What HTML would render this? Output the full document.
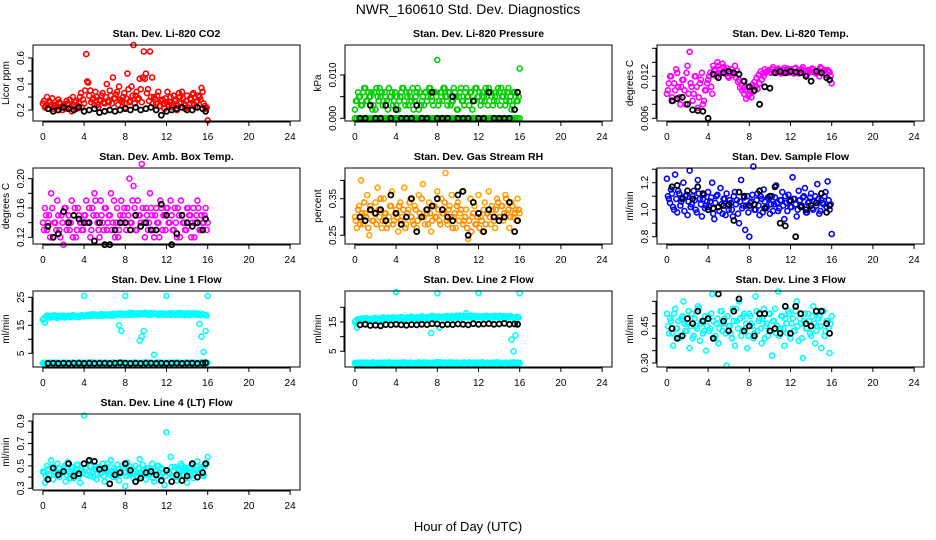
<!DOCTYPE html>
<html><head><meta charset="utf-8">
<style>
html,body{margin:0;padding:0;background:#fff;}
svg{display:block;font-family:"Liberation Sans",sans-serif;}
</style></head>
<body>
<svg id="chart" width="936" height="540" viewBox="0 0 936 540">
<rect width="936" height="540" fill="#fff"/>
<text x="468" y="14" text-anchor="middle" font-size="14">NWR_160610  Std. Dev. Diagnostics</text>
<text x="468" y="531" text-anchor="middle" font-size="13">Hour of Day (UTC)</text>
</svg>
<script>
const hours = [0,0.2,0.4,0.6,0.8,1,1.2,1.4,1.6,1.8,2,2.2,2.4,2.6,2.8,3,3.2,3.4,3.6,3.8,4,4.2,4.4,4.6,4.8,5,5.2,5.4,5.6,5.8,6,6.2,6.4,6.6,6.8,7,7.2,7.4,7.6,7.8,8,8.2,8.4,8.6,8.8,9,9.2,9.4,9.6,9.8,10,10.2,10.4,10.6,10.8,11,11.2,11.4,11.6,11.8,12,12.2,12.4,12.6,12.8,13,13.2,13.4,13.6,13.8,14,14.2,14.4,14.6,14.8,15,15.2,15.4,15.6,15.8,16];
const hours2 = [0.1,0.3,0.5,0.7,0.9,1.1,1.3,1.5,1.7,1.9,2.1,2.3,2.5,2.7,2.9,3.1,3.3,3.5,3.7,3.9,4.1,4.3,4.5,4.7,4.9,5.1,5.3,5.5,5.7,5.9,6.1,6.3,6.5,6.7,6.9,7.1,7.3,7.5,7.7,7.9,8.1,8.3,8.5,8.7,8.9,9.1,9.3,9.5,9.7,9.9,10.1,10.3,10.5,10.7,10.9,11.1,11.3,11.5,11.7,11.9,12.1,12.3,12.5,12.7,12.9,13.1,13.3,13.5,13.7,13.9,14.1,14.3,14.5,14.7,14.9,15.1,15.3,15.5,15.7,15.9];
const blackHours = [0.5,1,1.5,2,2.5,3,3.5,4,4.5,5,5.5,6,6.5,7,7.5,8,8.5,9,9.5,10,10.5,11,11.5,12,12.5,13,13.5,14,14.5,15,15.5,15.8];
const xTicks = [0,4,8,12,16,20,24];

const co2 = [.25,.22,.30,.27,.24,.21,.23,.20,.26,.22,.24,.21,.25,.28,.19,.24,.27,.23,.30,.22,.25,.63,.41,.35,.28,.24,.30,.22,.27,.33,.25,.40,.26,.31,.45,.29,.34,.38,.27,.30,.22,.48,.26,.38,.70,.31,.28,.44,.26,.65,.48,.36,.65,.45,.30,.25,.34,.23,.28,.21,.26,.24,.30,.22,.27,.20,.33,.25,.29,.21,.31,.24,.28,.33,.22,.27,.30,.37,.25,.21,.12];
const co2B = [.27,.23,.21,.26,.29,.24,.22,.28,.25,.20,.23,.27,.24,.22,.30,.26,.21,.25,.33,.28,.35,.42,.31,.26,.29,.34,.24,.28,.31,.26,.30,.27,.35,.25,.29,.32,.24,.28,.26,.33,.29,.36,.27,.31,.25,.34,.29,.36,.45,.44,.33,.27,.30,.25,.28,.31,.23,.27,.25,.29,.34,.26,.24,.31,.28,.23,.30,.34,.25,.27,.22,.29,.32,.24,.26,.31,.28,.34,.23,.22];
const co2Black = [.21,.19,.20,.22,.21,.20,.22,.19,.20,.21,.18,.19,.20,.19,.20,.21,.20,.22,.20,.21,.22,.20,.16,.19,.20,.21,.22,.20,.20,.22,.21,.19];
const press = [.002,.004,.005,.003,.006,.007,.004,.005,.006,.003,.002,.005,.007,.006,.004,.003,.002,.005,.006,.004,.003,.002,.005,.007,.004,.006,.003,.005,.007,.004,.006,.002,.003,.005,.006,.004,.007,.005,.003,.006,.0135,.004,.006,.007,.005,.003,.006,.004,.007,.005,.002,.006,.004,.003,.007,.005,.006,.002,.004,.007,.005,.003,.006,.004,.005,.007,.006,.003,.005,.004,.006,.007,.005,.003,.006,.004,.002,.006,.005,.004,.0115];
const pressB = [.004,.006,.005,.003,.007,.004,.006,.005,.002,.006,.007,.004,.005,.003,.006,.004,.007,.005,.003,.006,.005,.004,.006,.007,.003,.005,.006,.004,.002,.005,.007,.006,.004,.003,.006,.005,.007,.004,.006,.005,.003,.006,.004,.007,.005,.006,.003,.004,.006,.002,.005,.007,.004,.006,.005,.003,.006,.004,.007,.005,.006,.004,.005,.007,.003,.006,.005,.004,.006,.007,.003,.005,.006,.004,.007,.005,.003,.006,.004,.005];
const pressZero = [0,0,0,0,0,0,0,0,0,0,0,0,0,0,0,0,0,0,0,0,0,0,0,0,0,0,0,0,0,0,0,0,0,0,0,0,0,0,0,0,0,0,0,0,0,0,0,0,0,0,0,0,0,0,0,0,0,0,0,0,0,0,0,0,0,0,0,0,0,0,0,0,0,0,0,0,0,0,0,0,0];
const pressBlack = [0,0,0.003,0,0,0.003,0,0.002,0,0,0,0.003,0,0,0.006,0,0,0,0.005,0,0,0,0.004,0,0,0.006,0,0,0,0,0.002,0.006];
const liTemp = [.0095,.011,.012,.0085,.010,.0125,.009,.0105,.0115,.008,.0135,.0155,.0105,.0095,.012,.0075,.011,.0125,.0085,.010,.0115,.0125,.0095,.013,.012,.0135,.0125,.0138,.0128,.0132,.0118,.0126,.0122,.0135,.0128,.0115,.0108,.0113,.0100,.0105,.0095,.0090,.0098,.0105,.0102,.0110,.0115,.0120,.0125,.0128,.0126,.0130,.0127,.0125,.0131,.0128,.0126,.0132,.0129,.0125,.0130,.0127,.0131,.0126,.0124,.0129,.0133,.0127,.0122,.0128,.0126,.0130,.0125,.0128,.0120,.0131,.0127,.0124,.0129,.0126,.0110];
const liTempB = [.0100,.0120,.0090,.0110,.0130,.0105,.0080,.0115,.0100,.0125,.0095,.0110,.0085,.0120,.0105,.0090,.0115,.0080,.0100,.0110,.0120,.0105,.0135,.0128,.0140,.0130,.0125,.0133,.0129,.0120,.0124,.0130,.0125,.0118,.0112,.0104,.0100,.0095,.0088,.0092,.0100,.0108,.0112,.0118,.0122,.0127,.0124,.0130,.0127,.0129,.0125,.0133,.0126,.0128,.0130,.0124,.0129,.0127,.0131,.0126,.0128,.0124,.0132,.0127,.0125,.0130,.0128,.0123,.0129,.0126,.0131,.0127,.0124,.0128,.0133,.0126,.0129,.0122,.0127,.0120];
const liTempBlack = [.0085,.0088,.0090,.0080,.0072,.0071,.0070,.0060,.0123,.0118,.0125,.0127,.0125,.0123,.0113,.0105,.0100,.0080,.0105,.0103,.0125,.0127,.0125,.0127,.0126,.0125,.0120,.0113,.0127,.0125,.0118,.0115];
const boxTemp = [.14,.16,.13,.15,.18,.12,.14,.17,.13,.15,.11,.16,.14,.13,.17,.15,.12,.16,.14,.13,.15,.17,.14,.12,.16,.18,.15,.13,.17,.14,.16,.13,.15,.18,.14,.12,.16,.13,.17,.15,.14,.16,.20,.14,.19,.13,.17,.15,.22,.14,.16,.13,.18,.15,.12,.16,.14,.17,.13,.15,.16,.14,.17,.13,.16,.12,.15,.17,.14,.13,.16,.15,.12,.16,.14,.17,.13,.15,.14,.16,.14];
const boxTempB = [.13,.15,.14,.12,.16,.14,.13,.15,.12,.14,.16,.13,.15,.14,.12,.16,.13,.15,.14,.13,.15,.14,.16,.13,.15,.17,.14,.12,.15,.13,.16,.14,.15,.13,.17,.14,.12,.15,.14,.16,.13,.15,.14,.17,.16,.13,.15,.14,.16,.12,.15,.14,.16,.13,.15,.14,.12,.16,.15,.13,.16,.14,.15,.13,.14,.16,.12,.15,.14,.13,.16,.15,.14,.12,.15,.16,.13,.14,.15,.13];
const boxTempBlack = [.135,.12,.125,.155,.14,.15,.145,.14,.14,.115,.14,.11,.11,.13,.14,.14,.13,.15,.135,.14,.13,.13,.165,.15,.11,.125,.15,.14,.135,.14,.13,.145];
const rh = [.30,.27,.33,.40,.28,.31,.36,.25,.32,.29,.34,.38,.30,.27,.35,.31,.28,.33,.37,.29,.32,.26,.34,.30,.38,.28,.32,.35,.29,.33,.27,.36,.30,.39,.28,.31,.34,.26,.33,.30,.37,.29,.35,.31,.42,.28,.33,.36,.30,.27,.34,.31,.37,.29,.32,.24,.35,.30,.33,.28,.36,.30,.26,.34,.31,.37,.28,.32,.27,.35,.30,.33,.29,.36,.31,.27,.34,.30,.32,.35,.31];
const rhB = [.29,.32,.28,.31,.34,.30,.27,.33,.29,.31,.28,.32,.35,.29,.31,.27,.30,.33,.28,.31,.30,.33,.29,.32,.27,.31,.34,.30,.28,.32,.29,.31,.35,.30,.32,.28,.31,.29,.33,.30,.32,.28,.31,.34,.29,.32,.30,.27,.31,.33,.29,.32,.28,.30,.27,.29,.26,.31,.28,.30,.27,.29,.32,.28,.31,.30,.33,.29,.32,.34,.30,.33,.31,.35,.32,.30,.33,.31,.29,.32];
const rhBlack = [.30,.29,.32,.31,.32,.29,.36,.31,.28,.30,.35,.26,.30,.32,.33,.35,.32,.30,.29,.36,.37,.25,.34,.31,.26,.32,.30,.29,.30,.34,.26,.29];
const sflow = [1.23,1.08,1.15,1.02,1.26,0.98,1.12,1.06,1.20,1.10,0.96,1.29,1.04,1.14,1.00,1.22,1.08,0.95,1.11,1.03,1.13,1.06,1.20,0.93,1.10,1.02,1.16,0.97,1.08,1.12,1.00,1.05,0.95,1.13,1.07,0.90,1.22,1.03,0.85,1.10,0.80,1.06,1.32,1.00,1.12,0.96,1.08,1.15,1.01,1.09,0.97,1.10,1.04,1.18,0.99,1.07,1.13,0.93,1.05,1.11,1.02,1.24,1.08,0.95,1.14,1.03,1.09,1.16,0.98,1.06,1.12,1.00,1.10,1.19,0.97,1.07,1.04,1.13,1.21,1.00,0.82];
const sflowB = [1.10,1.05,1.12,1.00,1.08,1.14,1.03,1.09,0.99,1.11,1.06,1.02,1.10,1.07,0.98,1.12,1.04,1.08,1.01,1.06,1.02,1.09,0.97,1.05,1.11,0.99,1.04,1.08,0.96,1.03,1.07,1.00,1.10,1.04,0.97,1.06,1.01,1.09,1.03,0.98,1.05,1.11,1.00,1.07,1.03,1.10,0.98,1.06,1.02,1.08,1.04,0.99,1.09,1.05,1.01,1.07,1.03,1.10,0.99,1.06,1.02,1.08,1.04,1.00,1.07,1.03,1.10,0.98,1.05,1.09,1.01,1.06,1.03,1.08,0.99,1.05,1.10,1.02,1.07,1.04];
const sflowBlack = [1.17,1.18,1.08,1.14,1.08,1.17,1.12,1.00,1.01,1.02,1.03,1.04,0.92,1.13,1.10,1.03,1.04,1.14,1.01,1.10,1.17,0.90,0.88,1.07,0.80,1.02,1.00,1.03,1.05,1.12,0.98,1.03];
const line1 = [17,16,18.5,18,17.8,18.2,18,17.6,18.3,18.1,18.4,18,18.2,17.9,18.3,18.5,18.1,18.4,18.2,18.6,25.5,18.3,18.6,18.8,18.4,18.9,18.5,18.7,18.4,18.8,18.6,18.9,18.5,18.8,19,18.6,18.9,15,13,19.2,25.5,18.7,19.5,18.9,19.2,18.8,19.3,9.6,11,13,19,18.8,19.4,19.1,4.5,19,18.7,19.3,19,18.8,25.5,19.1,18.7,19.3,18.9,19.2,18.8,19.4,19,18.6,19.1,18.7,19.2,18.9,19.4,18.8,15.5,11,5.5,13,25.5];
const line1B = [17.5,18.2,17.8,18.4,18,18.6,17.9,18.3,18.1,18.5,17.8,18.2,18.4,18,18.6,18.1,18.3,17.9,18.5,18.2,18.4,18.7,18.3,18.9,18.5,18.8,18.4,18.6,19,18.5,18.8,18.6,18.9,18.4,19.1,18.7,18.9,19.3,18.6,19,18.8,19.2,18.7,19.4,18.9,19.1,18.8,19.3,19,19.5,18.9,19.2,18.8,19.4,19.1,18.7,19.2,18.9,19.3,19,18.8,19.3,18.9,19.1,18.7,19.4,19,18.8,19.2,18.9,19.3,18.7,19,19.2,18.8,19.1,18.6,19,18.7,18.5];
const line1Low = [1.5,1.7,1.4,1.6,1.5,1.3,1.6,1.7,1.5,1.4,1.6,1.5,1.7,1.4,1.5,1.6,1.3,1.5,1.7,1.6,1.4,1.5,1.6,1.8,1.5,1.4,1.6,1.5,1.7,1.4,1.6,1.5,1.3,1.6,1.7,1.5,1.4,1.6,1.5,1.7,1.4,1.5,1.6,1.3,1.5,1.7,1.6,1.4,1.5,1.6,1.8,1.5,1.4,1.6,1.5,1.7,1.4,1.6,1.5,1.3,1.6,1.7,1.5,1.4,1.6,1.5,1.7,1.4,1.5,1.6,1.3,1.5,1.7,1.6,1.4,1.5,1.6,1.8,1.5,1.4,1.6];
const line1LowB = [1.6,1.4,1.5,1.7,1.5,1.4,1.6,1.5,1.3,1.6,1.5,1.7,1.4,1.5,1.6,1.4,1.5,1.7,1.5,1.6,1.4,1.6,1.5,1.3,1.7,1.5,1.6,1.4,1.5,1.6,1.7,1.5,1.4,1.6,1.5,1.3,1.6,1.5,1.7,1.4,1.5,1.6,1.4,1.7,1.5,1.6,1.3,1.5,1.6,1.4,1.7,1.5,1.6,1.4,1.5,1.6,1.7,1.4,1.5,1.6,1.5,1.3,1.6,1.5,1.7,1.4,1.6,1.5,1.4,1.7,1.5,1.6,1.4,1.5,1.6,1.3,1.5,1.7,1.6,1.5];
const line1Black = [1.4,1.5,1.4,1.5,1.4,1.5,1.5,1.4,1.5,1.4,1.5,1.5,1.4,1.5,1.6,1.5,1.4,1.5,1.4,1.5,1.5,1.4,1.5,1.4,1.5,1.5,1.4,1.5,1.5,1.4,1.5,1.6];
const line2 = [15,13,16,15.5,16.2,15.8,16,15.6,16.1,15.9,16.3,15.7,16,16.2,15.8,16.1,16.4,15.9,16.2,16,25.2,16.3,16.1,16.5,15.9,16.4,16.2,16.6,16,16.3,16.5,16.1,16.4,16.7,16.2,16.5,16.3,11.2,16.8,16.4,24.8,13,16.5,16.9,16.3,16.7,16.5,17,16.4,16.8,16.6,17.2,16.5,16.9,18,16.6,16.8,16.5,16.9,16.7,24.9,16.5,16.9,16.7,17,16.6,16.8,16.5,17.1,16.7,16.9,16.6,17,16.8,16.5,16.9,9,5,10.5,16.5,24.8];
const line2B = [15.5,16,15.8,16.2,15.9,16.3,16,16.1,15.8,16.4,16.1,16.2,15.9,16.5,16.2,16,16.4,16.1,16.6,16.3,16.5,16.2,16.7,16.4,16.1,16.6,16.3,16.8,16.5,16.2,16.7,16.4,16.9,16.6,16.3,16.8,16.5,17.1,16.6,16.4,16.9,16.6,16.8,16.5,17,16.7,16.4,16.9,16.6,17.1,16.8,16.5,17,16.7,16.9,16.6,17.2,16.8,16.5,17,16.7,16.9,16.6,17.1,16.8,16.5,17,16.7,16.9,16.6,17.1,16.8,16.5,16.9,16.7,17,16.4,16.6,16.8,16.5];
const line2Low = [1,0.9,1.1,1,0.8,1,1.1,0.9,1,1.2,1,0.9,1,1.1,0.8,1,1,1.2,0.9,1,1.1,1,0.9,1.2,1,1,0.8,1.1,1,0.9,1,1.2,1,1,0.9,1.1,1,0.8,1,1.1,1.3,1,0.9,1,1.1,1,1.2,0.9,1,1,1.1,0.9,1,1.2,1,0.8,1,1.1,1,0.9,1.1,1,1.2,0.9,1,1,0.8,1.1,1,1.2,1,0.9,1,1.1,1,0.9,1,1.2,1,0.9,1];
const line2LowB = [1.1,1,0.9,1.2,1,1.1,0.9,1,1.2,1,0.8,1.1,1,0.9,1.1,1,1.2,0.9,1,1.1,1,0.9,1.1,1,1.2,0.9,1,1.1,0.8,1,1.1,0.9,1,1.2,1,1.1,0.9,1,1.1,1,0.9,1.2,1,1.1,0.9,1,1,1.2,0.9,1.1,1,0.8,1,1.1,0.9,1.2,1,1,1.1,0.9,1,1.2,0.9,1,1.1,1,0.9,1.1,1,1.2,0.9,1,1.1,1,0.8,1.1,1,0.9,1.1,1];
const line2Black = [14,14.2,13.8,13.9,13.7,14.1,14,14.2,14,13.9,14.1,14,14.2,14.1,14.4,14.3,14,14.2,14.1,14.3,14.2,14,14.4,14.2,14.3,14.4,14.2,14.3,14.5,14.2,14.3,14.2];
const line3 = [.50,.42,.47,.37,.52,.44,.40,.48,.55,.43,.46,.36,.50,.41,.45,.53,.39,.47,.43,.35,.49,.44,.58,.40,.46,.38,.51,.43,.48,.29,.45,.42,.52,.37,.47,.55,.41,.49,.44,.36,.50,.46,.40,.57,.43,.48,.38,.52,.45,.41,.50,.33,.47,.42,.59,.44,.49,.37,.46,.51,.40,.48,.43,.55,.39,.46,.32,.50,.44,.47,.41,.53,.38,.45,.49,.36,.51,.43,.47,.34,.49];
const line3B = [.45,.48,.42,.50,.44,.47,.41,.49,.46,.43,.51,.45,.40,.48,.44,.52,.46,.42,.49,.45,.43,.50,.47,.41,.48,.44,.51,.46,.42,.49,.45,.40,.47,.52,.44,.48,.43,.50,.46,.41,.49,.45,.42,.51,.47,.44,.48,.40,.46,.50,.43,.47,.52,.45,.41,.49,.44,.48,.42,.50,.46,.43,.51,.45,.48,.40,.47,.44,.50,.42,.49,.46,.43,.48,.45,.51,.41,.47,.44,.46];
const line3Black = [.44,.40,.41,.48,.46,.51,.47,.48,.40,.58,.47,.43,.51,.56,.43,.45,.41,.50,.50,.43,.44,.42,.53,.42,.53,.50,.46,.45,.51,.51,.46,.42];
const line4 = [.45,.35,.50,.42,.55,.38,.47,.52,.40,.44,.48,.36,.53,.43,.49,.39,.46,.51,.35,.44,.95,.48,.54,.41,.45,.50,.38,.47,.43,.52,.36,.49,.44,.55,.40,.46,.51,.37,.45,.48,.32,.53,.42,.47,.39,.50,.44,.56,.41,.46,.38,.48,.43,.52,.36,.45,.50,.40,.47,.33,.80,.44,.58,.41,.49,.37,.46,.52,.42,.48,.35,.45,.50,.39,.47,.54,.43,.49,.41,.52,.58];
const line4B = [.44,.40,.47,.42,.49,.45,.41,.48,.43,.46,.50,.42,.45,.39,.47,.44,.51,.41,.46,.43,.48,.42,.45,.50,.40,.47,.43,.49,.44,.41,.46,.52,.42,.45,.48,.40,.47,.43,.50,.44,.41,.46,.49,.43,.45,.40,.48,.44,.51,.42,.46,.43,.47,.39,.45,.50,.42,.48,.44,.41,.46,.43,.49,.45,.40,.47,.44,.50,.42,.46,.48,.41,.45,.43,.49,.44,.47,.42,.50,.52];
const line4Black = [.38,.48,.42,.45,.52,.41,.43,.52,.55,.54,.47,.48,.34,.42,.44,.52,.46,.36,.39,.44,.45,.42,.37,.46,.36,.42,.37,.41,.52,.40,.44,.52];

const panels = [
 {key:'co2',title:'Stan. Dev. Li-820 CO2',ylab:'Licor ppm',col:0,row:0,ylim:[0.1154,0.70],ticks:[.2,.3,.4,.5,.6],labels:[['0.2',.2],['0.4',.4],['0.6',.6]],series:[[hours,co2,'#ff0000'],[hours2,co2B,'#ff0000'],[blackHours,co2Black,'#000']]},
 {key:'pressure',title:'Stan. Dev. Li-820 Pressure',ylab:'kPa',col:1,row:0,ylim:[-0.000624,0.01693],ticks:[0,.005,.01],labels:[['0.000',0],['0.010',.01]],series:[[hours,pressZero,'#00cd00'],[hours,press,'#00cd00'],[hours2,pressB,'#00cd00'],[blackHours,pressBlack,'#000']]},
 {key:'li-temp',title:'Stan. Dev. Li-820 Temp.',ylab:'degrees C',col:2,row:0,ylim:[0.005614,0.016471],ticks:[.006,.008,.010,.012,.014,.016],labels:[['0.006',.006],['0.012',.012]],series:[[hours,liTemp,'#ff00ff'],[hours2,liTempB,'#ff00ff'],[blackHours,liTempBlack,'#000']]},
 {key:'box-temp',title:'Stan. Dev. Amb. Box Temp.',ylab:'degrees C',col:0,row:1,ylim:[0.1109,0.2145],ticks:[.12,.14,.16,.18,.20],labels:[['0.12',.12],['0.16',.16],['0.20',.20]],series:[[hours,boxTemp,'#ff00ff'],[hours2,boxTempB,'#ff00ff'],[blackHours,boxTempBlack,'#000']]},
 {key:'rh',title:'Stan. Dev. Gas Stream RH',ylab:'percent',col:1,row:1,ylim:[0.2262,0.4339],ticks:[.25,.30,.35,.40],labels:[['0.25',.25],['0.35',.35]],series:[[hours,rh,'#ffa500'],[hours2,rhB,'#ff8c00'],[blackHours,rhBlack,'#000']]},
 {key:'sample-flow',title:'Stan. Dev. Sample Flow',ylab:'ml/min',col:2,row:1,ylim:[0.7459,1.3089],ticks:[.8,.9,1.0,1.1,1.2,1.3],labels:[['0.8',.8],['1.0',1.0],['1.2',1.2]],series:[[hours,sflow,'#0000ff'],[hours2,sflowB,'#0000ff'],[blackHours,sflowBlack,'#000']]},
 {key:'line1',title:'Stan. Dev. Line 1 Flow',ylab:'ml/min',col:0,row:2,ylim:[0.108,27.25],ticks:[5,10,15,20,25],labels:[['5',5],['15',15],['25',25]],series:[[hours,line1,'#00ffff'],[hours2,line1B,'#00ffff'],[hours,line1Low,'#00ffff'],[hours2,line1LowB,'#00ffff'],[blackHours,line1Black,'#000']]},
 {key:'line2',title:'Stan. Dev. Line 2 Flow',ylab:'ml/min',col:1,row:2,ylim:[-0.365,25.57],ticks:[5,10,15,20],labels:[['5',5],['15',15]],series:[[hours,line2,'#00ffff'],[hours2,line2B,'#00ffff'],[hours,line2Low,'#00ffff'],[hours2,line2LowB,'#00ffff'],[blackHours,line2Black,'#000']]},
 {key:'line3',title:'Stan. Dev. Line 3 Flow',ylab:'ml/min',col:2,row:2,ylim:[0.2838,0.592],ticks:[.30,.35,.40,.45,.50,.55],labels:[['0.30',.30],['0.45',.45]],series:[[hours,line3,'#00ffff'],[hours2,line3B,'#00ffff'],[blackHours,line3Black,'#000']]},
 {key:'line4',title:'Stan. Dev. Line 4 (LT) Flow',ylab:'ml/min',col:0,row:3,ylim:[0.2848,0.9634],ticks:[.3,.4,.5,.6,.7,.8,.9],labels:[['0.3',.3],['0.5',.5],['0.7',.7],['0.9',.9]],series:[[hours,line4,'#00ffff'],[hours2,line4B,'#00ffff'],[blackHours,line4Black,'#000']]}
];

const NS = 'http://www.w3.org/2000/svg';
const svg = document.getElementById('chart');
function mk(tag, attrs, parent){
  const e = document.createElementNS(NS, tag);
  for (const k in attrs) e.setAttribute(k, attrs[k]);
  parent.appendChild(e);
  return e;
}
panels.forEach(p => {
  const x0 = 33 + 312*p.col, x1 = 300 + 312*p.col;
  const top = 45 + 123*p.row, bot = top + 76;
  const xs = h => x0 + (h + 0.96) / 25.92 * (x1 - x0);
  const ys = v => bot - (v - p.ylim[0]) / (p.ylim[1] - p.ylim[0]) * (bot - top);
  const g = mk('g', {}, svg);
  
  
  const t = mk('text', {x:(x0+x1)/2, y:top-8, 'text-anchor':'middle', 'font-size':'10.5', 'font-weight':'bold'}, g);
  t.textContent = p.title;
  
  
  const pg = mk('g', {}, g);
  
  
  p.series.forEach(s => {
    const xa = s[0], ya = s[1], c = s[2];
    for (let i = 0; i < ya.length; i++) {
      const c1 = mk('circle', {cx:xs(xa[i]).toFixed(1), cy:ys(ya[i]).toFixed(1), r:'2.5', fill:'none', stroke:c, 'stroke-width': c === '#000' ? '1.8' : '1.6'}, pg);
      
      
    }
  });
  const b = mk('rect', {x:x0, y:top, width:x1-x0, height:bot-top, fill:'none', stroke:'#000', 'stroke-width':'1'}, g);
  
  
  const xa = mk('g', {}, g);
  
  
  mk('line', {x1:xs(0), x2:xs(24), y1:bot+1, y2:bot+1, stroke:'#000'}, xa);
  xTicks.forEach(v => {
    mk('line', {x1:xs(v), x2:xs(v), y1:bot, y2:bot+5, stroke:'#000'}, xa);
    const tl = mk('text', {x:xs(v), y:bot+19, 'text-anchor':'middle', 'font-size':'10'}, xa);
    tl.textContent = v;
    
    
  });
  const ya = mk('g', {}, g);
  
  
  const tv = p.ticks;
  mk('line', {x1:x0-1, x2:x0-1, y1:ys(tv[0]), y2:ys(tv[tv.length-1]), stroke:'#000'}, ya);
  tv.forEach(v => mk('line', {x1:x0-5, x2:x0, y1:ys(v), y2:ys(v), stroke:'#000'}, ya));
  p.labels.forEach(l => {
    const yy = ys(l[1]);
    const tl = mk('text', {x:x0-9, y:yy, 'text-anchor':'middle', 'font-size':'10', transform:'rotate(-90 '+(x0-9)+' '+yy+')'}, ya);
    tl.textContent = l[0];
    
    
  });
  const my = (top+bot)/2;
  const yt = mk('text', {x:x0-24, y:my, 'text-anchor':'middle', 'font-size':'10', transform:'rotate(-90 '+(x0-24)+' '+my+')'}, g);
  yt.textContent = p.ylab;
  
  
});
</script>
</body></html>
